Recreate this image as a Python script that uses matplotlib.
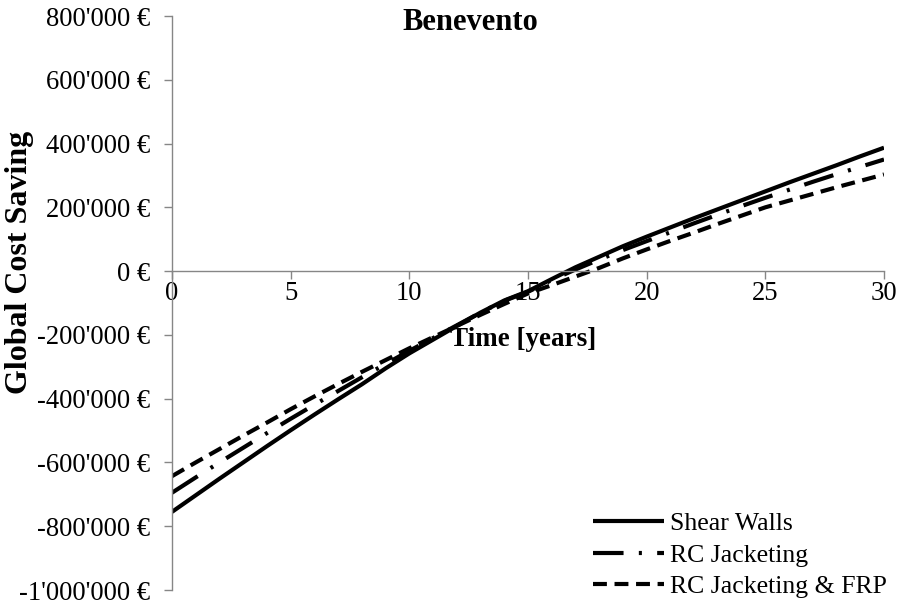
import matplotlib
matplotlib.use("Agg")
import matplotlib.pyplot as plt
from matplotlib.ticker import FuncFormatter

plt.rcParams['font.family'] = ['Liberation Serif', 'DejaVu Serif']
plt.rcParams['lines.scale_dashes'] = False

years = list(range(0, 31))
shear_walls = [-755, -703, -651, -600, -549, -499, -450, -402, -355, -305, -258,
               -215, -172, -130, -92, -63, -25, 12, 45, 78, 108, 137, 166, 194,
               222, 250, 278, 305, 332, 360, 387]
rc_jacketing = [-695, -647, -600, -554, -508, -463, -419, -376, -333, -291, -250,
                -210, -170, -130, -93, -65, -28, 5, 36, 66, 94, 122, 150, 177,
                204, 230, 255, 280, 304, 327, 350]
rc_frp = [-643, -600, -558, -516, -475, -433, -393, -354, -316, -279, -242,
          -207, -172, -137, -103, -70, -44, -17, 10, 40, 68, 95, 121, 148,
          174, 200, 221, 242, 263, 283, 303]
series_names = ["Shear Walls", "RC Jacketing", "RC Jacketing & FRP"]
x_ticks = [0, 5, 10, 15, 20, 25, 30]
y_ticks = [-1000000, -800000, -600000, -400000, -200000, 0, 200000, 400000, 600000, 800000]

W, H = 901, 605
fig = plt.figure(figsize=(W / 100, H / 100), dpi=100)
ax = fig.add_axes([172 / W, 1 - 590 / H, (884 - 172) / W, (590 - 16) / H])

fs = 19.2
gray = '#868686'
lw = 3.0

ax.plot(years, [v * 1000 for v in shear_walls], color='black', lw=lw,
        solid_capstyle='butt', label=series_names[0])
ax.plot(years, [v * 1000 for v in rc_jacketing], color='black', lw=lw,
        dashes=(22, 11, 2.2, 11), dash_capstyle='butt', label=series_names[1])
ax.plot(years, [v * 1000 for v in rc_frp], color='black', lw=lw,
        dashes=(10, 5.5), dash_capstyle='butt', label=series_names[2])

ax.set_xlim(0, 30)
ax.set_ylim(-1000000, 800000)
ax.set_xticks(x_ticks)
ax.set_yticks(y_ticks)


def fmt(v, pos):
    v = int(round(v))
    s = f"{abs(v):,}".replace(",", "'")
    return ("-" if v < 0 else "") + s + " €"


ax.yaxis.set_major_formatter(FuncFormatter(fmt))

for s in ['top', 'right']:
    ax.spines[s].set_visible(False)
ax.spines['bottom'].set_position(('data', 0))
for s in ['left', 'bottom']:
    ax.spines[s].set_color(gray)
    ax.spines[s].set_linewidth(1.0)
ax.tick_params(axis='both', colors=gray, labelcolor='black', labelsize=fs,
               width=1.0, length=6, direction='out')
ax.tick_params(axis='y', pad=9.5)
ax.tick_params(axis='x', pad=1)

fig.text(470 / W, 1 - 22 / H, "Benevento", ha='center', va='center',
         fontsize=22, fontweight='bold')
fig.text(523 / W, 1 - 340 / H, "Time [years]", ha='center', va='center',
         fontsize=19.5, fontweight='bold')
fig.text(19.5 / W, 1 - 262 / H, "Global Cost Saving", ha='center', va='center',
         fontsize=23, fontweight='bold', rotation=90)

leg = ax.legend(loc='lower right', bbox_to_anchor=(905 / W, -11 / H),
                bbox_transform=fig.transFigure, frameon=False, fontsize=18.5,
                handlelength=2.75, handletextpad=0.25, labelspacing=0.33,
                borderpad=0.2)

fig.savefig("out.png", dpi=100)
